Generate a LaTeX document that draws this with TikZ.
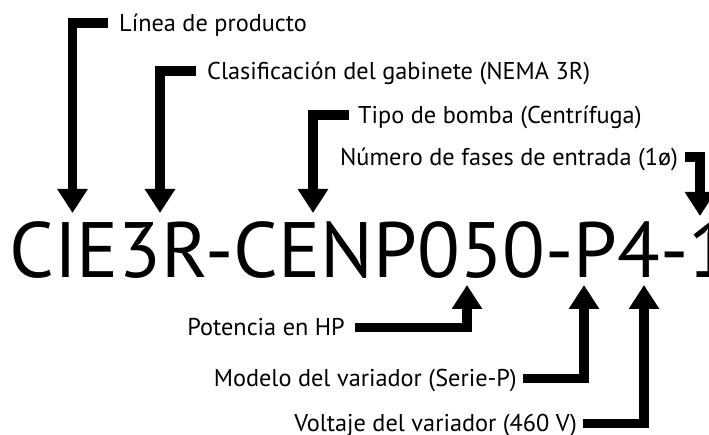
\documentclass[tikz,border=0pt]{standalone}
\usepackage{fontspec}
\setmainfont{PT Sans}
\usetikzlibrary{arrows.meta}

\begin{document}
\begin{tikzpicture}[line join=miter,x=1pt,y=-1pt,
  tag/.style={inner sep=0pt,font=\fontsize{24.3}{24.3}\selectfont,text height=16.5pt,text depth=0pt},
  pointer/.style={line width=9.5pt,-{Triangle[width=29pt,length=24pt]}}]
\clip (0,0) rectangle (709,435);
%koodi
\node[anchor=base west,inner sep=0pt,font=\fontsize{78.5}{78.5}\selectfont] (code) at (9,278) {CIE3R-CENP050-P4-1};

%nuolten karjet
\coordinate (tLinea) at (72.5,213);
\coordinate (tGabinete) at (160,213);
\coordinate (tBomba) at (313,213);
\coordinate (tFases) at (700,216);
\coordinate (tHP) at (467,285);
\coordinate (tModelo) at (584,285);
\coordinate (tVoltaje) at (644,285);

%ylhaalla
\node[tag,anchor=west] (linea) at (119,23) {Línea de producto};
\draw[pointer] ([xshift=-11pt]linea.west) -| (tLinea);
\node[tag,anchor=west] (gabinete) at (207,71) {Clasificación del gabinete (NEMA 3R)};
\draw[pointer] ([xshift=-11pt]gabinete.west) -| (tGabinete);
\node[tag,anchor=west] (bomba) at (358,115) {Tipo de bomba (Centrífuga)};
\draw[pointer] ([xshift=-9pt]bomba.west) -| (tBomba);
\node[tag,anchor=east] (fases) at (678,157) {Número de fases de entrada (1ø)};
\draw[pointer] ([xshift=7pt]fases.east) -| (tFases);

%alhaalla
\node[tag,anchor=east] (potencia) at (345,327.5) {Potencia en HP};
\draw[pointer] ([xshift=10pt]potencia.east) -| (tHP);
\node[tag,anchor=east] (modelo) at (517,378.5) {Modelo del variador (Serie-P)};
\draw[pointer] ([xshift=6pt]modelo.east) -| (tModelo);
\node[tag,anchor=east] (voltaje) at (577,423.5) {Voltaje del variador (460 V)};
\draw[pointer] ([xshift=6pt]voltaje.east) -| (tVoltaje);
\end{tikzpicture}
\end{document}
